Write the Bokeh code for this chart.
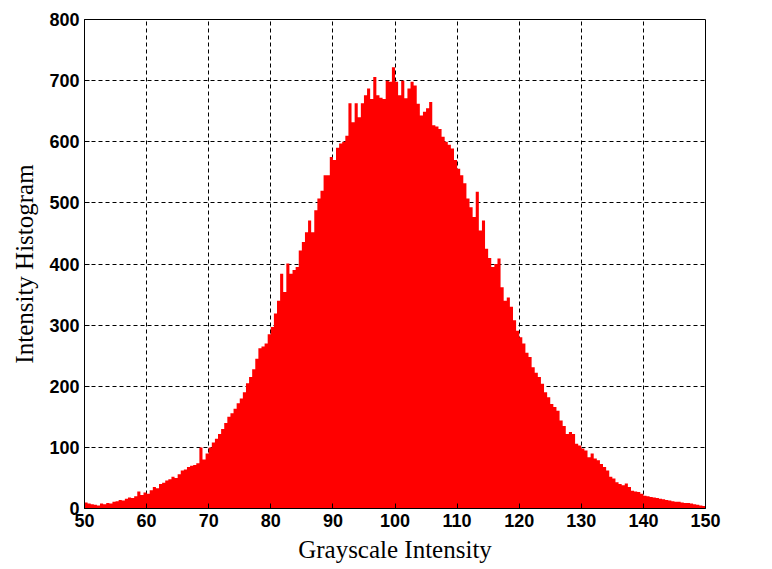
from bokeh.plotting import figure
from bokeh.models import Range1d, FixedTicker
from bokeh.embed import file_html
from bokeh.resources import INLINE

# Histogram bin edges start (0.5-wide bins from 50 to 150)
bin_start = 50.0
bin_width = 0.5
counts = [
    10, 8, 7, 6, 5, 8, 7, 9, 8, 11,
    12, 14, 13, 16, 18, 17, 20, 28, 22, 26,
    24, 30, 35, 33, 40, 42, 46, 48, 52, 50,
    56, 62, 64, 68, 70, 71, 74, 100, 80, 90,
    100, 108, 114, 122, 130, 140, 150, 156, 163, 172,
    180, 190, 205, 215, 228, 245, 262, 265, 270, 285,
    297, 319, 340, 384, 354, 401, 384, 390, 395, 422,
    436, 452, 471, 452, 488, 507, 520, 545, 545, 575,
    570, 590, 597, 600, 610, 663, 632, 663, 640, 663,
    676, 687, 670, 706, 676, 672, 670, 700, 698, 722,
    698, 676, 700, 671, 687, 698, 692, 662, 643, 649,
    655, 665, 627, 625, 621, 608, 600, 595, 589, 570,
    556, 545, 532, 507, 493, 477, 518, 455, 471, 425,
    410, 395, 400, 409, 362, 340, 345, 330, 308, 291,
    280, 270, 255, 248, 231, 222, 215, 204, 190, 182,
    171, 166, 160, 144, 135, 122, 125, 122, 106, 103,
    98, 95, 84, 90, 82, 79, 73, 68, 62, 52,
    49, 43, 40, 38, 41, 35, 29, 28, 27, 24,
    21, 20, 19, 18, 17, 16, 15, 14, 13, 12,
    11, 11, 10, 9, 9, 8, 7, 6, 5, 4,
]
x_ticks = [50, 60, 70, 80, 90, 100, 110, 120, 130, 140, 150]
y_ticks = [0, 100, 200, 300, 400, 500, 600, 700, 800]
x_label = "Grayscale Intensity"
y_label = "Intensity Histogram"

edges = [bin_start + bin_width * i for i in range(len(counts) + 1)]
tops = counts + [counts[-1]]

p = figure(width=772, height=569, x_range=Range1d(50, 150), y_range=Range1d(0, 800),
           output_backend="svg", toolbar_location=None,
           min_border_left=84, min_border_right=67, min_border_top=19, min_border_bottom=61)

p.varea_step(x=edges, y1=[0] * len(edges), y2=tops, step_mode="after", fill_color="#ff0000")

p.xaxis.ticker = FixedTicker(ticks=x_ticks)
p.yaxis.ticker = FixedTicker(ticks=y_ticks)
for ax in (p.xaxis, p.yaxis):
    ax.major_label_text_font = "Liberation Sans"
    ax.major_label_text_font_style = "bold"
    ax.major_label_text_font_size = "18px"
    ax.major_label_text_color = "black"
    ax.axis_label_text_font = "Liberation Serif"
    ax.axis_label_text_font_style = "normal"
    ax.axis_label_text_font_size = "25px"
    ax.axis_label_text_color = "black"
    ax.axis_line_color = "black"
    ax.major_tick_line_color = "black"
    ax.major_tick_in = 5
    ax.major_tick_out = 0
    ax.minor_tick_line_color = None
p.xaxis.axis_label = x_label
p.yaxis.axis_label = y_label
p.xaxis.major_label_standoff = 5
p.yaxis.major_label_standoff = 5
p.xaxis.axis_label_standoff = 6
p.yaxis.axis_label_standoff = 8

for g in (p.xgrid, p.ygrid):
    g.grid_line_color = "black"
    g.grid_line_dash = "4 3"
    g.grid_line_width = 1
    g.grid_line_alpha = 1.0

p.outline_line_color = "black"
p.outline_line_width = 1
p.outline_line_alpha = 1.0
p.background_fill_color = "white"
p.border_fill_color = "white"

open("out.html", "w").write(file_html(p, INLINE))
